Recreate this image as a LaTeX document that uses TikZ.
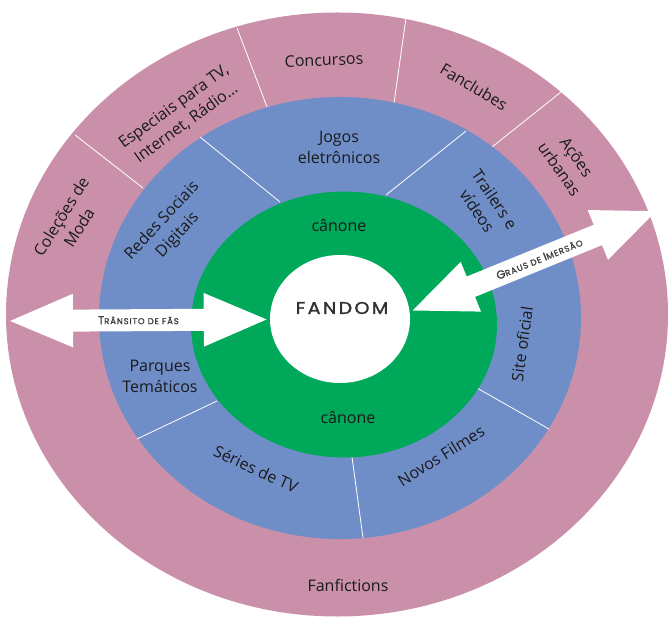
\documentclass[tikz,border=0pt]{standalone}
\usepackage{fontspec}
\setmainfont{Open Sans}
\newfontfamily\fandomfont{Poppins}[LetterSpace=14, FakeBold=1.6, FakeStretch=1.12]
\newfontfamily\capsfont{Poppins}[LetterSpace=10, FakeBold=1.2]
\usepackage{tikz}
\usetikzlibrary{shapes.geometric, arrows.meta}
\definecolor{ringpink}{HTML}{CA90AA}
\definecolor{ringblue}{HTML}{6F8EC8}
\definecolor{canongreen}{HTML}{00A859}
\definecolor{textdark}{HTML}{1A1A1A}
\newcommand{\capletter}[1]{{\fontsize{11.5}{11.5}\selectfont #1}}

\begin{document}
\begin{tikzpicture}[
  x=1pt, y=1pt,
  ring/.style={ellipse, inner sep=0pt, draw=none},
  divider/.style={draw=white, line width=0.8pt},
  lbl/.style={align=center, text=textdark, font=\fontsize{16}{21}\selectfont},
  fanarrow/.style={draw=white, line width=22pt, {Triangle[length=66pt, width=48pt]}-{Triangle[length=66pt, width=48pt]}},
  arrowlabel/.style={text=textdark!85, font=\capsfont\fontsize{8.5}{8.5}\selectfont}
]
  \useasboundingbox (0,0) rectangle (668,618);

  % outer ring
  \node[ring, fill=ringpink, minimum width=662pt, minimum height=604pt] (outer) at (337,303.5) {};
  \draw[divider] (75,483) -- (143,430);
  \draw[divider] (237,590) -- (267,511);
  \draw[divider] (406,600) -- (394,515);
  \draw[divider] (561,526) -- (492,471);

  % middle ring
  \node[ring, fill=ringblue, minimum width=482pt, minimum height=442pt] (middle) at (340,300) {};
  \draw[divider] (200,481) -- (280,416);
  \draw[divider] (466,487) -- (386,423);
  \draw[divider] (217,217) -- (137,179);
  \draw[divider] (352,161) -- (363,80);
  \draw[divider] (477,230) -- (549,189);

  % canon and fandom
  \node[ring, fill=canongreen, minimum width=306pt, minimum height=266pt] (canon) at (344,293.5) {};
  \node[ring, fill=white, minimum width=140pt, minimum height=128pt] (fandom) at (340,299) {};
  \node[font=\fandomfont\fontsize{17}{17}\selectfont, text=textdark!90] (fandomtext) at (342,310) {FANDOM};
  \node[lbl] (canontop) at (339,393) {cânone};
  \node[lbl] (canonbottom) at (348,201) {cânone};

  % labels, middle ring
  \node[lbl] (jogos) at (339,471) {Jogos\\eletrônicos};
  \node[lbl, rotate=47] (redes) at (170,390) {Redes Sociais\\Digitais};
  \node[lbl, rotate=-56] (trailers) at (486,413) {Trailers e\\vídeos};
  \node[lbl, rotate=82] (site) at (522,274) {Site oficial};
  \node[lbl] (parques) at (160,242) {Parques\\Temáticos};
  \node[lbl, rotate=-25] (series) at (256,149) {Séries de TV};
  \node[lbl, rotate=32] (filmes) at (441,162) {Novos Filmes};

  % labels, outer ring
  \node[lbl, rotate=2] (concursos) at (324,558) {Concursos};
  \node[lbl, rotate=-31] (fanclubes) at (474,531) {Fanclubes};
  \node[lbl, rotate=-55] (acoes) at (568,455) {Ações\\urbanas};
  \node[lbl, rotate=36] (especiais) at (180,503) {Especiais para TV,\\Internet, Rádio…};
  \node[lbl, rotate=58] (colecoes) at (70,396) {Coleções de\\Moda};
  \node[lbl] (fanfictions) at (348,33) {Fanfictions};

  % arrows
  \coordinate (transito) at (7,297);
  \coordinate (imersao) at (659,408);
  \draw[fanarrow] (transito) -- (fandom)
    node[arrowlabel, midway] (transitolabel) {\capletter{T}RÂNSITO DE FÃS};
  \draw[fanarrow] (imersao) -- (fandom.6)
    node[arrowlabel, pos=0.48, sloped] (imersaolabel) {\capletter{G}RAUS DE \capletter{I}MERSÃO};
\end{tikzpicture}
\end{document}
